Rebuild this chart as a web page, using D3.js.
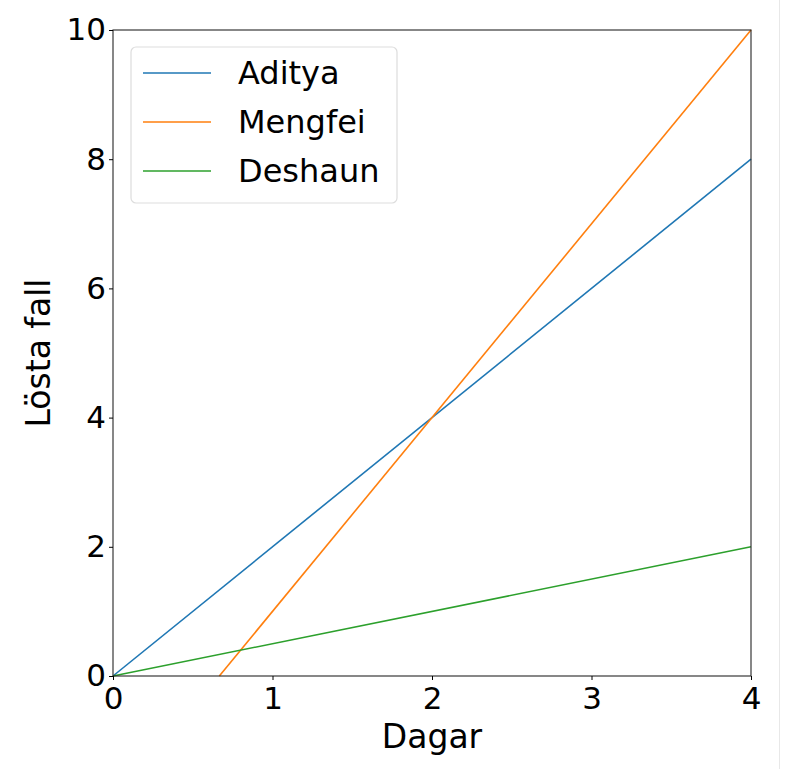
<!DOCTYPE html>
<html>
<head>
<meta charset="utf-8">
<script src="https://cdn.jsdelivr.net/npm/d3@7"></script>
<style>
  body { margin: 0; background: #fff; }
  text { font-family: "DejaVu Sans", sans-serif; fill: #000; }
</style>
</head>
<body>
<div id="chart"></div>
<script>
const names = ["Aditya", "Mengfei", "Deshaun"];
const colors = ["#1f77b4", "#ff7f0e", "#2ca02c"];
const days = [0, 4];
const adityaCases = [0, 8];
const mengfeiDays = [2 / 3, 4];
const mengfeiCases = [0, 10];
const deshaunCases = [0, 2];
const xTicks = [0, 1, 2, 3, 4];
const yTicks = [0, 2, 4, 6, 8, 10];

const series = [
  {name: names[0], pts: days.map((d, i) => [d, adityaCases[i]])},
  {name: names[1], pts: mengfeiDays.map((d, i) => [d, mengfeiCases[i]])},
  {name: names[2], pts: days.map((d, i) => [d, deshaunCases[i]])}
];

const width = 785, height = 769;
const margin = {top: 30, right: 34, bottom: 93, left: 113};

const svg = d3.select("#chart").append("svg")
    .attr("width", width)
    .attr("height", height);

// faint edge seen on the right of the original image
svg.append("line")
    .attr("x1", 779.5).attr("x2", 779.5)
    .attr("y1", 0).attr("y2", height)
    .attr("stroke", "#e8e8e8")
    .attr("stroke-width", 1);

const x = d3.scaleLinear().domain([0, 4]).range([margin.left, width - margin.right]);
const y = d3.scaleLinear().domain([0, 10]).range([height - margin.bottom, margin.top]);

const line = d3.line().x(d => x(d[0])).y(d => y(d[1]));

svg.append("g")
    .selectAll("path")
    .data(series)
    .enter().append("path")
      .attr("d", d => line(d.pts))
      .attr("fill", "none")
      .attr("stroke", (d, i) => colors[i])
      .attr("stroke-width", 1.6);

// frame
svg.append("rect")
    .attr("x", x(0)).attr("y", y(10))
    .attr("width", x(4) - x(0)).attr("height", y(0) - y(10))
    .attr("fill", "none")
    .attr("stroke", "#262626")
    .attr("stroke-width", 1.1);

svg.append("g")
    .attr("transform", `translate(0,${y(0)})`)
    .call(d3.axisBottom(x).tickValues(xTicks).tickFormat(d3.format("d")).tickSize(4).tickPadding(3))
    .call(g => g.select(".domain").remove())
    .call(g => g.selectAll("text").style("font-size", "31px").attr("dy", "0.85em"));

svg.append("g")
    .attr("transform", `translate(${x(0)},0)`)
    .call(d3.axisLeft(y).tickValues(yTicks).tickFormat(d3.format("d")).tickSize(4).tickPadding(3))
    .call(g => g.select(".domain").remove())
    .call(g => g.selectAll("text").style("font-size", "31px"));

svg.append("text")
    .attr("x", (x(0) + x(4)) / 2)
    .attr("y", 748)
    .attr("text-anchor", "middle")
    .style("font-size", "33px")
    .text("Dagar");

svg.append("text")
    .attr("transform", `translate(50,${(y(0) + y(10)) / 2}) rotate(-90)`)
    .attr("text-anchor", "middle")
    .style("font-size", "33px")
    .text("Lösta fall");

// legend
const legend = svg.append("g");
legend.append("rect")
    .attr("x", 131).attr("y", 47)
    .attr("width", 266).attr("height", 156)
    .attr("rx", 5)
    .attr("fill", "#fff")
    .attr("fill-opacity", 0.8)
    .attr("stroke", "#ddd")
    .attr("stroke-width", 1.2);

const item = legend.selectAll("g.item")
    .data(series)
    .enter().append("g")
      .attr("class", "item")
      .attr("transform", (d, i) => `translate(0,${73 + i * 49})`);

item.append("line")
    .attr("x1", 143).attr("x2", 211)
    .attr("stroke", (d, i) => colors[i])
    .attr("stroke-width", 1.6);

item.append("text")
    .attr("x", 238)
    .attr("dy", "0.35em")
    .style("font-size", "32px")
    .text(d => d.name);
</script>
</body>
</html>
